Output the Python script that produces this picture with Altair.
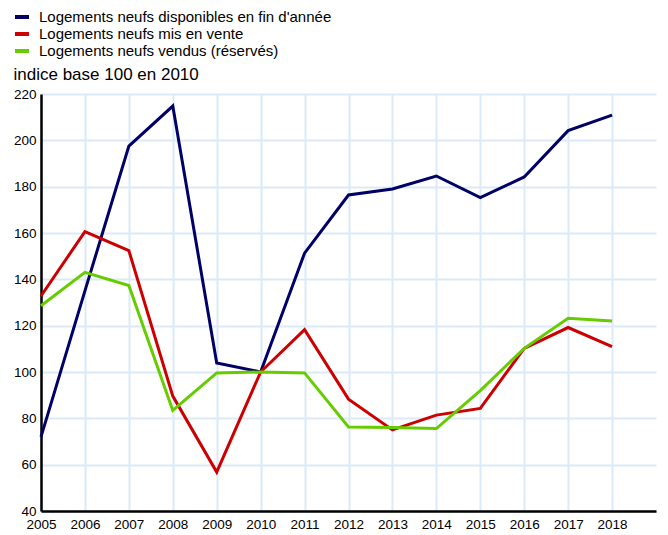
import altair as alt
import pandas as pd

years = list(range(2005, 2019))
disponibles = [72, 135, 197.5, 214.8, 103.9, 100, 151.3, 176.4, 179.0, 184.6, 175.3, 184.2, 204.2, 210.9]
mis_en_vente = [132.8, 160.6, 152.4, 89.6, 56.8, 100, 118.3, 88.3, 75.0, 81.4, 84.3, 110.2, 119.2, 111.0]
vendus = [128.6, 143.0, 137.3, 83.4, 99.6, 100, 99.6, 76.3, 76.0, 75.6, 92.0, 110.2, 123.2, 122.0]

series_names = [
    "Logements neufs disponibles en fin d'année",
    "Logements neufs mis en vente",
    "Logements neufs vendus (réservés)",
]
series_colors = ["#000066", "#cc0000", "#66cc00"]

rows = []
for name, vals in zip(series_names, [disponibles, mis_en_vente, vendus]):
    for y, v in zip(years, vals):
        rows.append({"annee": y, "valeur": v, "serie": name})
df = pd.DataFrame(rows)

font = "Liberation Sans"

chart = alt.Chart(df).mark_line(strokeWidth=3, clip=False).encode(
    x=alt.X(
        "annee:Q",
        scale=alt.Scale(domain=[2005, 2019], nice=False, zero=False),
        axis=alt.Axis(
            values=years, format="d", title=None, ticks=False,
            labelFontSize=13.5, labelPadding=6, labelColor="#000",
            labelFont=font, domainColor="#000", domainWidth=2.5,
            gridColor="#dce9f6", gridWidth=2, labelFlush=False,
        ),
    ),
    y=alt.Y(
        "valeur:Q",
        scale=alt.Scale(domain=[40, 220], nice=False, zero=False),
        axis=alt.Axis(
            values=list(range(40, 221, 20)), title="indice base 100 en 2010",
            titleAngle=0, titleAlign="left", titleBaseline="alphabetic",
            titleX=-28, titleY=-15, titleFontSize=17, titleFontWeight="normal",
            titleFont=font, titleColor="#000",
            ticks=False, labelFontSize=13.5, labelPadding=5, labelColor="#000",
            labelFont=font, domainColor="#000", domainWidth=2.5,
            gridColor="#dce9f6", gridWidth=2,
        ),
    ),
    color=alt.Color(
        "serie:N",
        scale=alt.Scale(domain=series_names, range=series_colors),
        legend=alt.Legend(
            title=None, orient="none", legendX=-28, legendY=-86,
            symbolType="stroke", symbolStrokeWidth=4, symbolSize=196,
            labelFontSize=15, labelFont=font, labelColor="#000",
            labelOffset=8, rowPadding=0, labelLimit=500,
        ),
    ),
).properties(
    width=615,
    height=417,
    padding={"left": 33, "top": 86, "right": 4, "bottom": 24},
    autosize=alt.AutoSizeParams(type="none"),
).configure_view(stroke=None)

chart.save("out.html", embed_options={"renderer": "svg", "actions": False})
